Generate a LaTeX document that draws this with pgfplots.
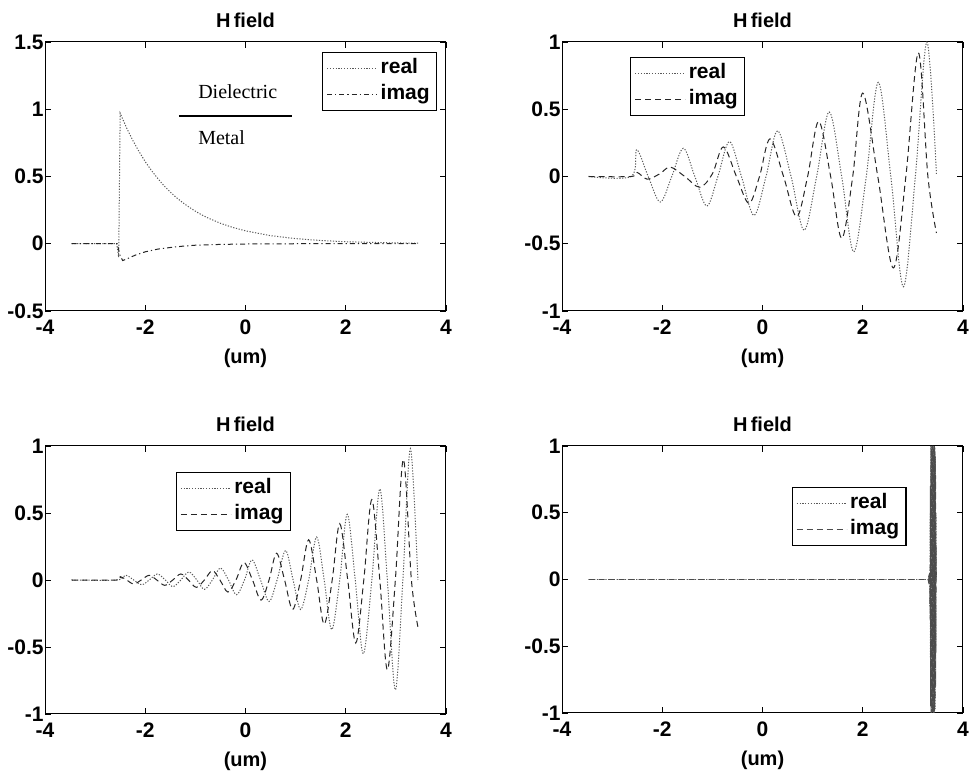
\documentclass[border=0pt]{standalone}
\usepackage{pgfplots}
\pgfplotsset{compat=1.18}
\usepackage{fontspec}
\setmainfont{Liberation Sans}
\newfontfamily\seriffont{Liberation Serif}

\pgfplotsset{
  every axis title shift=0pt,
  hfield/.style={
    width=200.5pt, scale only axis,
    xmin=-4, xmax=4, xtick={-4,-2,0,2,4},
    tick align=inside, major tick length=3pt,
    tick style={black, line width=0.4pt},
    axis line style={black, line width=0.5pt},
    /pgf/number format/assume math mode=true,
    tick label style={font=\bfseries\fontsize{10.5}{12}\selectfont},
    yticklabel style={inner xsep=0.5pt},
    xticklabel style={yshift=-1pt},
    title={H\,field},
    title style={at={(axis description cs:0.5,1)}, anchor=center, yshift=11pt,
                 font=\bfseries\fontsize{10}{12}\selectfont},
    xlabel={(um)},
    xlabel style={at={(axis description cs:0.5,0)}, anchor=center, yshift=-23.5pt,
                  font=\bfseries\fontsize{10}{12}\selectfont},
    legend cell align=left,
    legend style={draw=black, line width=0.6pt, fill=white,
                  font=\bfseries\fontsize{10.5}{12}\selectfont,
                  inner xsep=2pt, inner ysep=1.5pt, anchor=north west,
                  nodes={inner sep=1.5pt, text height=7.5pt, text depth=2.5pt}},
    legend image code/.code={\draw[#1] (0pt,0pt) -- (25pt,0pt);},
  },
  re/.style={black!65, line width=0.5pt, dash pattern=on 0.6pt off 0.8pt},
  im/.style={black!85, line width=0.5pt, dash pattern=on 3pt off 2pt},
  imdd/.style={black!85, line width=0.5pt, dash pattern=on 2.5pt off 1.5pt on 0.6pt off 1.5pt},
}

\begin{document}
\begin{tikzpicture}
\useasboundingbox (0,0) rectangle (486pt,389.5pt);

% ---------- surface wave bound at the interface ----------
\begin{axis}[hfield, at={(22.5pt,234pt)}, anchor=south west, height=134.5pt,
  ymin=-0.5, ymax=1.5, ytick={-0.5,0,0.5,1,1.5},
  legend style={at={(axis description cs:0.691,0.963)}}]
\addplot[re] coordinates {
 (-3.47,0) (-2.57,0) (-2.53,-0.10) (-2.50,0.97) (-2.375,0.864) (-2.25,0.769)
 (-2.125,0.686) (-2.0,0.610) (-1.875,0.544) (-1.75,0.485) (-1.625,0.431)
 (-1.5,0.384) (-1.375,0.342) (-1.25,0.305) (-1.125,0.272) (-1.0,0.242)
 (-0.875,0.215) (-0.75,0.192) (-0.5,0.152) (-0.25,0.121) (0,0.096)
 (0.5,0.060) (1.0,0.038) (1.5,0.024) (2.0,0.015) (2.5,0.010) (3.0,0.006) (3.45,0.004)};
\addlegendentry{real}
\addplot[imdd] coordinates {
 (-3.47,0) (-2.56,0) (-2.50,-0.09) (-2.45,-0.125) (-2.35,-0.11) (-2.2,-0.085)
 (-2.0,-0.06) (-1.75,-0.04) (-1.5,-0.028) (-1.25,-0.018) (-1.0,-0.011)
 (-0.5,-0.005) (0,-0.002) (1,0) (3.45,0)};
\addlegendentry{imag}
\node[font=\seriffont\fontsize{10}{12}\selectfont, anchor=west, inner sep=0pt]
  at (axis cs:-0.95,1.13) {Dielectric};
\draw[black, line width=1pt] (axis cs:-1.33,0.95) -- (axis cs:0.93,0.95);
\node[font=\seriffont\fontsize{10}{12}\selectfont, anchor=west, inner sep=0pt]
  at (axis cs:-0.95,0.79) {Metal};
\end{axis}

% ---------- growing wave ----------
\begin{axis}[hfield, at={(281pt,234pt)}, anchor=south west, height=134.5pt,
  ymin=-1, ymax=1, ytick={-1,-0.5,0,0.5,1},
  legend style={at={(axis description cs:0.170,0.945)}}]
\addplot[re, smooth, tension=0.55] coordinates {
 (-3.47,0) (-2.62,0) (-2.51,0.20) (-2.28,0) (-2.04,-0.19) (-1.81,0)
 (-1.58,0.21) (-1.35,0) (-1.11,-0.22) (-0.89,0) (-0.66,0.26) (-0.42,0)
 (-0.17,-0.29) (0.07,0) (0.30,0.34) (0.57,0) (0.83,-0.40) (1.08,0)
 (1.33,0.48) (1.58,0) (1.82,-0.56) (2.07,0) (2.31,0.70) (2.56,0)
 (2.81,-0.82) (3.05,0) (3.28,1.0) (3.47,0.02)};
\addlegendentry{real}
\addplot[im, smooth, tension=0.55] coordinates {
 (-3.47,0) (-2.62,0) (-2.50,0.03) (-2.30,-0.02) (-2.05,0.02) (-1.84,0.07)
 (-1.55,0) (-1.25,-0.08) (-1.0,0.02) (-0.78,0.22) (-0.52,0) (-0.27,-0.20)
 (-0.06,0) (0.15,0.28) (0.42,0) (0.68,-0.30) (0.90,0) (1.12,0.41)
 (1.36,0) (1.58,-0.46) (1.80,0) (2.00,0.62) (2.30,0) (2.61,-0.68)
 (2.86,0) (3.11,0.92) (3.30,0) (3.47,-0.42)};
\addlegendentry{imag}
\end{axis}

% ---------- shorter wavelength ----------
\begin{axis}[hfield, at={(22.5pt,32.5pt)}, anchor=south west, height=134pt,
  ymin=-1, ymax=1, ytick={-1,-0.5,0,0.5,1},
  legend style={at={(axis description cs:0.326,0.904)}}]
\addplot[re, smooth, tension=0.55] coordinates {
 (-3.47,0) (-2.57,0) (-2.39,0.035) (-2.23,0) (-2.07,-0.035) (-1.92,0)
 (-1.76,0.045) (-1.60,0) (-1.45,-0.05) (-1.29,0) (-1.13,0.06) (-0.97,0)
 (-0.82,-0.07) (-0.66,0) (-0.50,0.09) (-0.34,0) (-0.18,-0.11) (-0.02,0)
 (0.13,0.15) (0.30,0) (0.47,-0.16) (0.63,0) (0.80,0.22) (0.95,0)
 (1.10,-0.22) (1.26,0) (1.42,0.32) (1.57,0) (1.72,-0.37) (1.88,0)
 (2.03,0.49) (2.19,0) (2.35,-0.55) (2.52,0) (2.68,0.68) (2.83,0)
 (2.99,-0.82) (3.14,0) (3.29,0.98) (3.44,0.0)};
\addlegendentry{real}
\addplot[im, smooth, tension=0.55] coordinates {
 (-3.47,0) (-2.57,0) (-2.50,0.025) (-2.37,0) (-2.23,-0.03) (-2.08,0)
 (-1.92,0.035) (-1.77,0) (-1.61,-0.04) (-1.45,0) (-1.29,0.045) (-1.14,0)
 (-0.98,-0.055) (-0.82,0) (-0.66,0.07) (-0.51,0) (-0.35,-0.09) (-0.19,0)
 (-0.03,0.13) (0.14,0) (0.31,-0.15) (0.47,0) (0.62,0.20) (0.78,0)
 (0.94,-0.22) (1.10,0) (1.26,0.30) (1.42,0) (1.57,-0.33) (1.73,0)
 (1.88,0.42) (2.04,0) (2.20,-0.47) (2.36,0) (2.52,0.60) (2.68,0)
 (2.83,-0.67) (2.99,0) (3.15,0.90) (3.31,0) (3.44,-0.35)};
\addlegendentry{imag}
\end{axis}

% ---------- field confined at the edge ----------
\begin{axis}[hfield, at={(281pt,33pt)}, anchor=south west, height=133.5pt,
  ymin=-1, ymax=1, ytick={-1,-0.5,0,0.5,1},
  legend style={at={(axis description cs:0.573,0.847)}}]
\addplot[re, line width=0.35pt] coordinates {
 (-3.47,0) (3.30,0) (3.31,0.02) (3.318,-0.03) (3.325,0.03) (3.332,0.0)
 (3.338,-0.2) (3.344,0.5) (3.35,-0.9) (3.356,1.0) (3.362,-1.0) (3.368,0.99)
 (3.374,-1.0) (3.38,1.0) (3.386,-0.99) (3.392,1.0) (3.398,-1.0) (3.404,0.98)
 (3.41,-1.0) (3.416,1.0) (3.422,-0.99) (3.428,1.0) (3.434,-1.0) (3.44,0.99)
 (3.446,-0.97) (3.452,0.92) (3.458,-0.8) (3.464,0.5) (3.47,0)};
\addlegendentry{real}
\addplot[im, line width=0.35pt, black!70] coordinates {
 (-3.47,0) (3.30,0) (3.312,-0.02) (3.32,0.03) (3.327,-0.02) (3.334,0.05)
 (3.341,-0.3) (3.347,0.7) (3.353,-0.95) (3.359,1.0) (3.365,-1.0) (3.371,0.99)
 (3.377,-1.0) (3.383,1.0) (3.389,-0.99) (3.395,1.0) (3.401,-1.0) (3.407,0.98)
 (3.413,-1.0) (3.419,1.0) (3.425,-0.99) (3.431,1.0) (3.437,-0.98) (3.443,0.96)
 (3.449,-0.9) (3.455,0.78) (3.461,-0.55) (3.467,0.25) (3.47,0)};
\addlegendentry{imag}
\end{axis}
\end{tikzpicture}
\end{document}
